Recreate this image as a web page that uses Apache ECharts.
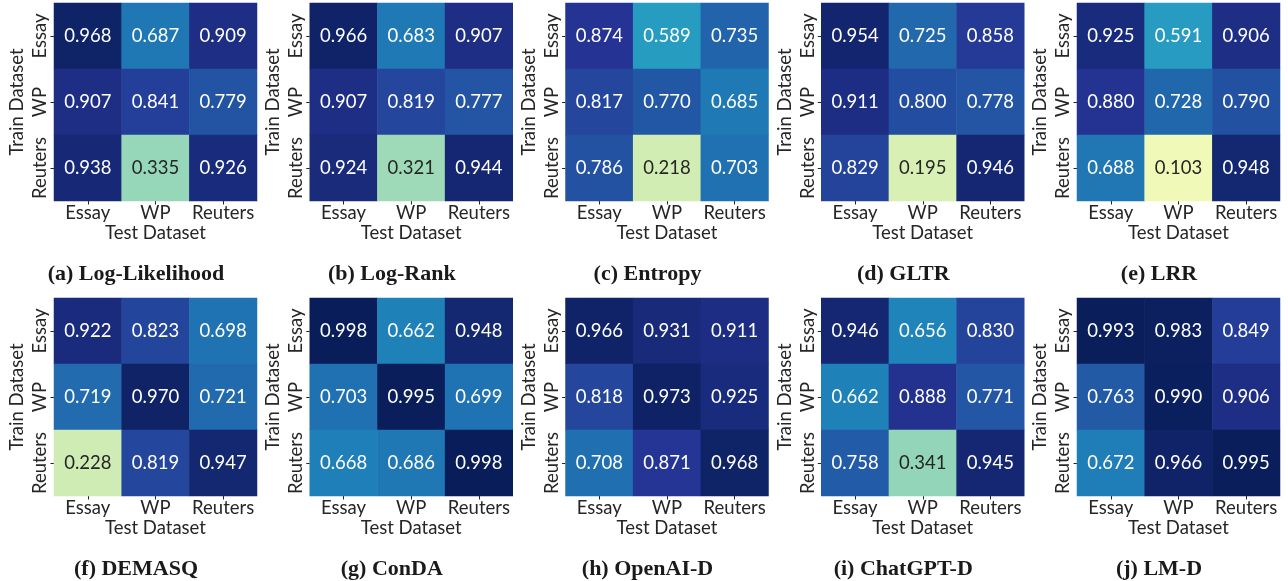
<!DOCTYPE html>
<html>
<head>
<meta charset="utf-8">
<script src="https://cdn.jsdelivr.net/npm/echarts@6/dist/echarts.min.js"></script>
<style>
  html, body { margin: 0; padding: 0; background: #ffffff; }
  #chart { width: 1288px; height: 581px; }
</style>
</head>
<body>
<div id="chart"></div>
<script>
// Dataset names on both axes
const testDatasets = ['Essay', 'WP', 'Reuters'];
const trainDatasets = ['Essay', 'WP', 'Reuters'];

// Detector captions
const captions = [
  '(a) Log-Likelihood', '(b) Log-Rank', '(c) Entropy', '(d) GLTR', '(e) LRR',
  '(f) DEMASQ', '(g) ConDA', '(h) OpenAI-D', '(i) ChatGPT-D', '(j) LM-D'
];

// Scores: rows = train dataset, columns = test dataset
const logLikelihood = [[0.968, 0.687, 0.909], [0.907, 0.841, 0.779], [0.938, 0.335, 0.926]];
const logRank       = [[0.966, 0.683, 0.907], [0.907, 0.819, 0.777], [0.924, 0.321, 0.944]];
const entropy       = [[0.874, 0.589, 0.735], [0.817, 0.770, 0.685], [0.786, 0.218, 0.703]];
const gltr          = [[0.954, 0.725, 0.858], [0.911, 0.800, 0.778], [0.829, 0.195, 0.946]];
const lrr           = [[0.925, 0.591, 0.906], [0.880, 0.728, 0.790], [0.688, 0.103, 0.948]];
const demasq        = [[0.922, 0.823, 0.698], [0.719, 0.970, 0.721], [0.228, 0.819, 0.947]];
const conda         = [[0.998, 0.662, 0.948], [0.703, 0.995, 0.699], [0.668, 0.686, 0.998]];
const openaiD       = [[0.966, 0.931, 0.911], [0.818, 0.973, 0.925], [0.708, 0.871, 0.968]];
const chatgptD      = [[0.946, 0.656, 0.830], [0.662, 0.888, 0.771], [0.758, 0.341, 0.945]];
const lmD           = [[0.993, 0.983, 0.849], [0.763, 0.990, 0.906], [0.672, 0.966, 0.995]];

const matrices = [logLikelihood, logRank, entropy, gltr, lrr, demasq, conda, openaiD, chatgptD, lmD];

// YlGnBu colour ramp
const ylGnBu = ['#ffffd9', '#edf8b1', '#c7e9b4', '#7fcdbb', '#41b6c4', '#1d91c0', '#225ea8', '#253494', '#081d58'];

const sansFont = 'Lato';
const textDark = '#262626';

const cellW = 203, cellH = 198;
const colX0 = 54, colStep = 255.75;
const rowTops = [3, 298];

const grids = [], xAxes = [], yAxes = [], series = [], titles = [];

matrices.forEach((m, k) => {
  const col = k % 5, row = Math.floor(k / 5);
  const left = colX0 + col * colStep;
  const top = rowTops[row];
  grids.push({ left: left, top: top, width: cellW, height: cellH, containLabel: false });

  xAxes.push({
    type: 'category', gridIndex: k, data: testDatasets, position: 'bottom',
    name: 'Test Dataset', nameLocation: 'middle', nameGap: 23,
    nameTextStyle: { fontFamily: sansFont, fontSize: 18.5, color: textDark },
    axisLine: { show: false },
    axisTick: { show: true, alignWithLabel: true, interval: 0, length: 3.5, lineStyle: { color: textDark, width: 1 } },
    axisLabel: { fontFamily: sansFont, fontSize: 18.5, color: textDark, margin: 3, interval: 0, hideOverlap: false },
    splitLine: { show: false }
  });

  yAxes.push({
    type: 'category', gridIndex: k, data: trainDatasets, inverse: true,
    name: 'Train Dataset', nameLocation: 'middle', nameGap: 27, nameRotate: 90,
    nameTextStyle: { fontFamily: sansFont, fontSize: 18.5, color: textDark },
    axisLine: { show: false },
    axisTick: { show: true, alignWithLabel: true, interval: 0, length: 3.5, lineStyle: { color: textDark, width: 1 } },
    axisLabel: { fontFamily: sansFont, fontSize: 18.5, color: textDark, rotate: 90, margin: 4, interval: 0, hideOverlap: false },
    splitLine: { show: false }
  });

  const data = [];
  m.forEach((rowVals, i) => {
    rowVals.forEach((v, j) => {
      data.push({
        value: [j, i, v],
        label: { color: v < 0.45 ? textDark : '#ffffff' }
      });
    });
  });

  series.push({
    type: 'heatmap', xAxisIndex: k, yAxisIndex: k, data: data,
    itemStyle: { borderWidth: 0 },
    label: {
      show: true, fontFamily: sansFont, fontSize: 18.5,
      formatter: p => p.value[2].toFixed(3)
    },
    emphasis: { disabled: true }
  });

  titles.push({
    text: captions[k],
    left: 131 + col * colStep, top: row === 0 ? 258 : 553,
    textAlign: 'center',
    textStyle: { fontFamily: 'Liberation Serif', fontWeight: 'bold', fontSize: 22, color: '#1a1a1a' }
  });
});

const chart = echarts.init(document.getElementById('chart'), null, { renderer: 'canvas' });
chart.setOption({
  backgroundColor: '#ffffff',
  animation: false,
  title: titles,
  grid: grids,
  xAxis: xAxes,
  yAxis: yAxes,
  visualMap: {
    type: 'continuous', show: false, min: 0, max: 1, dimension: 2,
    seriesIndex: series.map((_, i) => i),
    inRange: { color: ylGnBu }
  },
  series: series
});
</script>
</body>
</html>
